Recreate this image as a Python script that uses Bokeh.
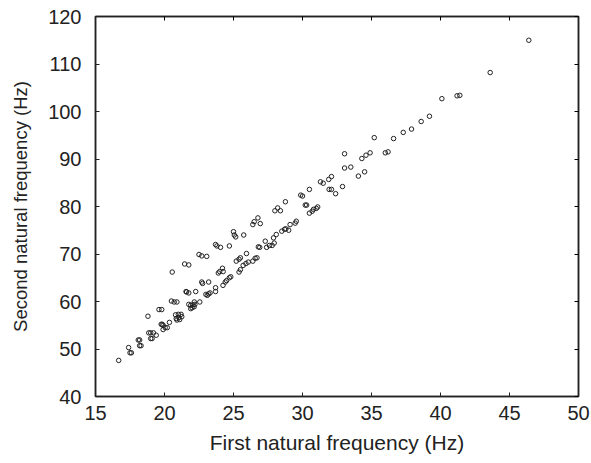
from bokeh.plotting import figure
from bokeh.models import LinearAxis, Range1d, FixedTicker
from bokeh.embed import file_html
from bokeh.resources import INLINE

first_freq = [16.68, 17.4, 17.5, 17.6, 18.1, 18.2, 18.2, 18.3, 18.8, 18.86, 19.0, 19.2,
              19.0, 19.1, 19.4, 19.6, 19.8, 19.76, 19.83, 19.9, 19.9, 20.05, 20.2, 20.36,
              20.5, 20.7, 20.9, 20.56, 20.8, 21.0, 21.2, 20.85, 21.05, 21.25, 20.9, 21.1,
              21.46, 21.76, 21.56, 21.6, 21.76, 21.76, 21.9, 22.06, 22.2, 21.9, 22.0, 22.15,
              22.16, 22.26, 22.56, 22.5, 22.7, 22.7, 22.76, 23.06, 23.0, 23.1, 23.2, 23.3,
              23.2, 23.7, 23.7, 23.7, 23.8, 23.9, 24.0, 24.25, 24.06, 24.2, 24.24, 24.4,
              24.5, 24.7, 24.8, 24.7, 25.0, 25.06, 25.16, 25.2, 25.4, 25.5, 25.4, 25.5,
              25.74, 25.7, 25.9, 26.07, 25.94, 26.4, 26.57, 26.7, 26.4, 26.5, 26.77, 26.8,
              26.9, 26.94, 27.3, 27.4, 27.6, 27.8, 27.9, 27.95, 28.0, 28.2, 28.4, 28.1,
              28.5, 28.7, 28.8, 29.0, 28.76, 29.1, 29.47, 29.55, 29.87, 30.0, 30.2, 30.3,
              30.5, 30.5, 30.7, 30.8, 31.0, 31.1, 31.3, 31.5, 31.9, 32.1, 31.93, 32.1,
              32.4, 32.9, 33.05, 33.05, 33.5, 34.05, 34.3, 34.6, 34.9, 34.5, 35.2, 36.0,
              36.2, 36.6, 37.3, 37.9, 38.6, 39.2, 40.1, 41.2, 41.4, 43.6, 46.4]

second_freq = [47.6, 50.3, 49.2, 49.2, 51.9, 51.9, 50.7, 50.7, 56.9, 53.4, 53.4, 53.4,
               52.2, 52.2, 52.9, 58.3, 58.3, 55.2, 55.2, 55.0, 54.1, 54.5, 54.5, 55.6,
               60.1, 59.9, 59.9, 66.2, 57.2, 57.3, 57.3, 56.4, 56.6, 56.8, 56.1, 56.2,
               67.9, 67.7, 62.1, 62.0, 61.8, 59.4, 59.2, 59.3, 59.4, 58.5, 58.7, 58.9,
               59.9, 62.1, 59.9, 69.9, 69.6, 64.1, 63.8, 69.5, 61.5, 61.3, 61.6, 61.8,
               64.1, 62.9, 62.1, 72.0, 71.7, 66.0, 66.3, 66.3, 71.4, 67.0, 63.4, 64.1,
               64.4, 65.0, 65.2, 71.7, 74.7, 74.0, 73.6, 68.5, 68.9, 69.2, 66.2, 66.7,
               74.0, 67.6, 68.0, 68.3, 70.1, 68.5, 69.1, 69.2, 76.2, 76.8, 77.6, 71.5,
               71.4, 76.4, 72.7, 71.4, 71.8, 71.8, 73.4, 72.3, 79.1, 79.7, 79.1, 74.1,
               74.8, 75.2, 75.3, 75.0, 81.0, 76.2, 76.5, 76.9, 82.4, 82.2, 80.3, 80.3,
               83.6, 78.6, 79.0, 79.4, 79.6, 79.9, 85.2, 84.9, 85.7, 86.3, 83.6, 83.6,
               82.7, 84.2, 91.1, 88.1, 88.3, 86.4, 90.1, 90.8, 91.3, 87.3, 94.5, 91.3,
               91.5, 94.3, 95.6, 96.3, 97.9, 99.0, 102.7, 103.3, 103.4, 108.2, 115.0]

x_ticks = [15, 20, 25, 30, 35, 40, 45, 50]
y_ticks = [40, 50, 60, 70, 80, 90, 100, 110, 120]

FONT = "Liberation Sans"

p = figure(width=591, height=463, output_backend="svg", toolbar_location=None,
           x_range=Range1d(15, 50), y_range=Range1d(40, 120),
           min_border_left=95, min_border_right=13, min_border_top=16, min_border_bottom=67,
           x_axis_label="First natural frequency (Hz)",
           y_axis_label="Second natural frequency (Hz)")

p.grid.visible = False
p.outline_line_color = "#222222"
p.outline_line_width = 1.5
p.background_fill_color = "white"
p.border_fill_color = "white"

p.scatter(first_freq, second_freq, marker="circle", size=4.5,
          fill_color=None, line_color="#222222", line_width=1)

for ax in p.xaxis:
    ax.ticker = FixedTicker(ticks=x_ticks)
for ax in p.yaxis:
    ax.ticker = FixedTicker(ticks=y_ticks)

for ax in list(p.xaxis) + list(p.yaxis):
    ax.major_tick_in = 4
    ax.major_tick_out = 0
    ax.minor_tick_line_color = None
    ax.axis_line_color = "#222222"
    ax.axis_line_width = 1.5
    ax.major_tick_line_color = "#222222"
    ax.major_label_text_font = FONT
    ax.major_label_text_font_size = "20px"
    ax.major_label_text_color = "#222222"
    ax.axis_label_text_font = FONT
    ax.axis_label_text_font_style = "normal"
    ax.axis_label_text_color = "#222222"

p.xaxis.axis_label_text_font_size = "21px"
p.yaxis.axis_label_text_font_size = "18.5px"
p.xaxis.major_label_standoff = 9
p.xaxis.axis_label_standoff = 8
p.yaxis.major_label_standoff = 14
p.yaxis.axis_label_standoff = 14

top = LinearAxis(ticker=FixedTicker(ticks=x_ticks), major_label_text_font_size="0px",
                 major_tick_in=4, major_tick_out=0, minor_tick_line_color=None,
                 axis_line_color="#222222", axis_line_width=1.5,
                 major_label_standoff=0)
right = LinearAxis(ticker=FixedTicker(ticks=y_ticks), major_label_text_font_size="0px",
                   major_tick_in=4, major_tick_out=0, minor_tick_line_color=None,
                   axis_line_color="#222222", axis_line_width=1.5,
                   major_label_standoff=0)
top.major_label_text_color = None
right.major_label_text_color = None
p.add_layout(top, "above")
p.add_layout(right, "right")

open("out.html", "w").write(file_html(p, INLINE))
